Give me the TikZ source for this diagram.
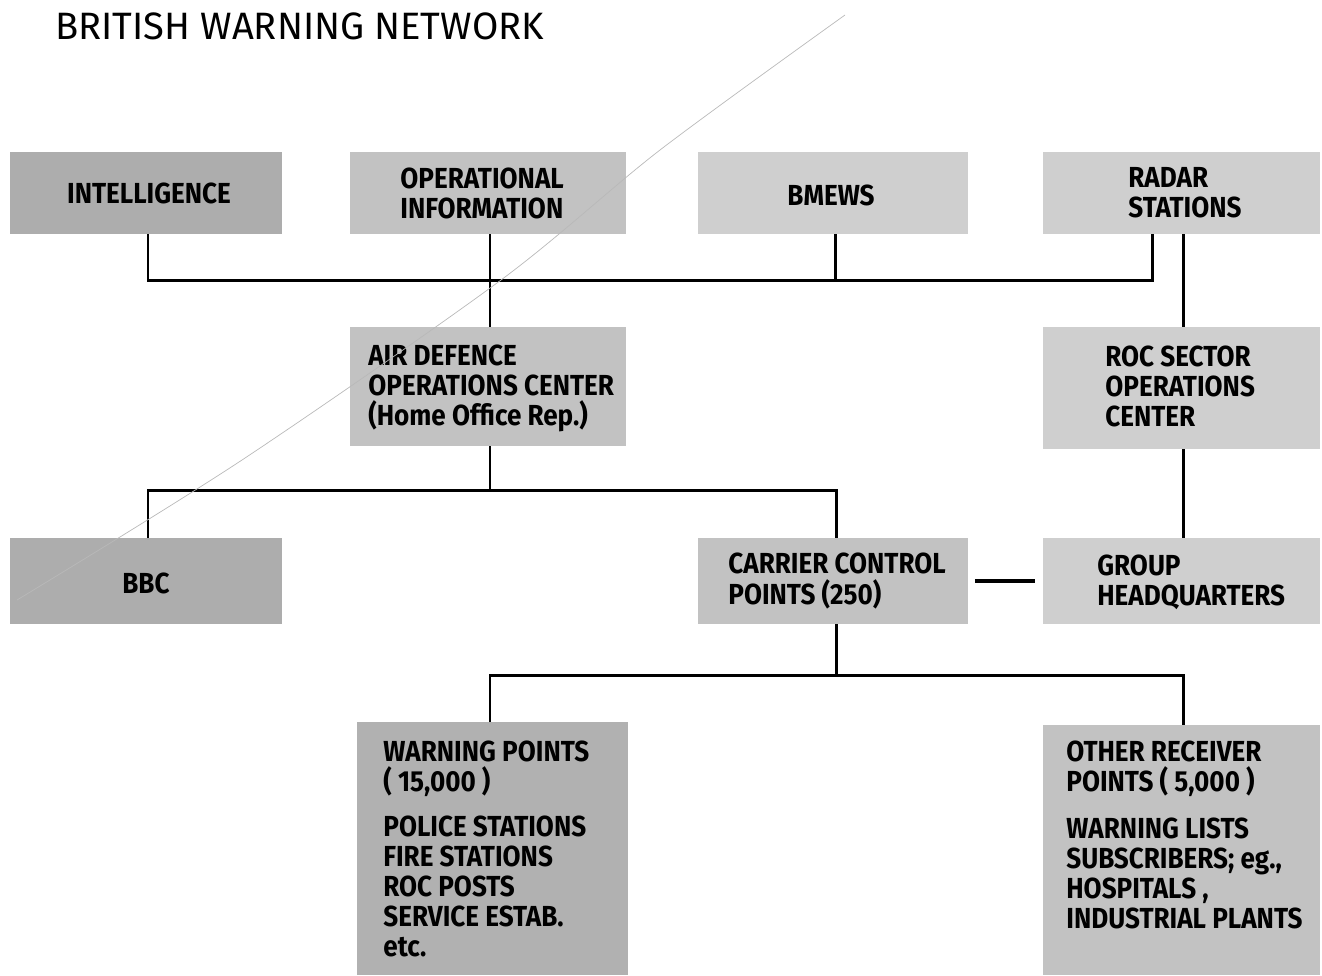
\documentclass[tikz,border=0pt]{standalone}
\usepackage{fontspec}
\setmainfont{Fira Sans}
\newfontfamily\boxfont{Fira Sans}[FakeStretch=0.9]
\usetikzlibrary{positioning,calc}

\definecolor{boxdark}{HTML}{ADADAD}
\definecolor{boxmid}{HTML}{C2C2C2}
\definecolor{boxlight}{HTML}{CFCFCF}

\begin{document}
\begin{tikzpicture}[
		x=0.02cm, y=-0.02cm,
		box/.style = {rectangle, inner sep=0pt, outer sep=0pt, fill=#1},
		box/.default = boxlight,
		txt/.style = {inner sep=0pt, align=left, font=\boxfont\fontsize{16.5}{17.1}\selectfont\bfseries},
		link/.style = {line width=1.7pt},
		heavylink/.style = {line width=2.8pt},
		scratch/.style = {gray!55, line width=0.4pt}
		]
		\useasboundingbox (0,0) rectangle (1322,975);

		% title
		\node[anchor=west, inner sep=0pt, font=\fontsize{21.7}{25}\selectfont] (title) at (55,26) {BRITISH WARNING NETWORK};

		% top row of sources
		\node[box=boxdark, minimum width=5.44cm, minimum height=1.64cm] (intel) at (146,193) {};
		\node[box=boxmid, minimum width=5.52cm, minimum height=1.64cm] (opinfo) at (488,193) {};
		\node[box, minimum width=5.40cm, minimum height=1.64cm] (bmews) at (833,193) {};
		\node[box, minimum width=5.54cm, minimum height=1.64cm] (radar) at (1181.5,193) {};
		\node[txt] (intelT) at (149,193) {INTELLIGENCE};
		\node[txt, anchor=west] (opinfoT) at (400,193) {OPERATIONAL\\INFORMATION};
		\node[txt] (bmewsT) at (831,195) {BMEWS};
		\node[txt, anchor=west] (radarT) at (1128,193) {RADAR\\STATIONS};

		% operations centres
		\node[box=boxmid, minimum width=5.52cm, minimum height=2.38cm] (adoc) at (488,386.5) {};
		\node[box, minimum width=5.54cm, minimum height=2.44cm] (roc) at (1181.5,388) {};
		\node[txt, anchor=west] (adocT) at (368,388) {AIR DEFENCE\\OPERATIONS CENTER\\(Home Office Rep.)};
		\node[txt, anchor=west] (rocT) at (1105,386) {ROC SECTOR\\OPERATIONS\\CENTER};

		% third row
		\node[box=boxdark, minimum width=5.44cm, minimum height=1.72cm] (bbc) at (146,581) {};
		\node[box=boxmid, minimum width=5.40cm, minimum height=1.72cm] (ccp) at (833,581) {};
		\node[box, minimum width=5.54cm, minimum height=1.72cm] (ghq) at (1181.5,581) {};
		\node[txt] (bbcT) at (146,583) {BBC};
		\node[txt, anchor=west] (ccpT) at (728,581) {CARRIER CONTROL\\POINTS (250)};
		\node[txt, anchor=west] (ghqT) at (1097,582) {GROUP\\HEADQUARTERS};

		% receivers
		\node[box=boxdark!80!boxmid, minimum width=5.42cm, minimum height=5.06cm] (warn) at (492.5,848.5) {};
		\node[box=boxmid, minimum width=5.54cm, minimum height=5.00cm] (other) at (1181.5,850) {};
		\node[txt, anchor=north west] (warnT) at (383,741) {WARNING POINTS\\( 15,000 )\\[0.28cm]POLICE STATIONS\\FIRE STATIONS\\ROC POSTS\\SERVICE ESTAB.\\etc.};
		\node[txt, anchor=north west] (otherT) at (1066,741) {OTHER RECEIVER\\POINTS ( 5,000 )\\[0.32cm]WARNING LISTS\\SUBSCRIBERS; eg.,\\HOSPITALS ,\\INDUSTRIAL PLANTS};

		% connectors
		\coordinate (busL) at (148,280);
		\coordinate (busR) at (1152,280);
		\coordinate (split) at (490,490);
		\coordinate (fan) at (836,675);
		\draw[link] (busL |- intel.south) -- (busL) -- (busR) -- (busR |- radar.south);
		\draw[link] (490,0 |- opinfo.south) -- (490,0 |- adoc.north);
		\draw[link] (835,0 |- bmews.south) -- (835,280);
		\draw[link] (1183,0 |- radar.south) -- (1183,0 |- roc.north);
		\draw[link] (1183,0 |- roc.south) -- (1183,0 |- ghq.north);
		\draw[link] (split |- adoc.south) -- (split);
		\draw[link] (148,0 |- bbc.north) |- (split) -| (836,0 |- ccp.north);
		\draw[heavylink, shorten <=0.14cm, shorten >=0.16cm] (ccp.east) -- (ghq.west);
		\draw[link] (fan |- ccp.south) -- (fan);
		\draw[link] (490,0 |- warn.north) |- (fan) -| (1183,0 |- other.north);

		% stray scan line
		\draw[scratch] plot[smooth] coordinates {(845,15) (660,150) (501,280) (242,460) (17,600)};
	\end{tikzpicture}
\end{document}
